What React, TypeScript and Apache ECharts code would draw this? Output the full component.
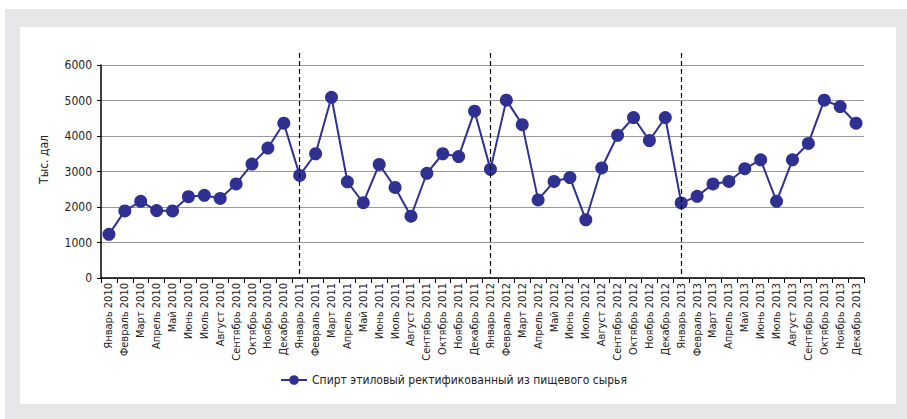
import React, { useEffect, useRef } from "react";
import * as echarts from "echarts";

// Monthly names and years used to build the category axis
const months: string[] = [
  "Январь", "Февраль", "Март", "Апрель", "Май", "Июнь",
  "Июль", "Август", "Сентябрь", "Октябрь", "Ноябрь", "Декабрь",
];
const years: number[] = [2010, 2011, 2012, 2013];
const categories: string[] = years.flatMap((y) => months.map((m) => `${m} ${y}`));

// Production, thousand decalitres
const values2010: number[] = [1230, 1890, 2160, 1900, 1890, 2290, 2330, 2240, 2650, 3210, 3660, 4360];
const values2011: number[] = [2890, 3500, 5090, 2710, 2120, 3200, 2550, 1740, 2950, 3500, 3420, 4700];
const values2012: number[] = [3060, 5010, 4320, 2200, 2720, 2830, 1640, 3100, 4020, 4520, 3870, 4520];
const values2013: number[] = [2115, 2300, 2650, 2720, 3080, 3330, 2160, 3330, 3790, 5010, 4830, 4360];
const seriesValues: number[] = [...values2010, ...values2011, ...values2012, ...values2013];

// Year boundaries marked with dashed lines
const yearStarts: string[] = ["Январь 2011", "Январь 2012", "Январь 2013"];

const seriesName = "Спирт этиловый ректификованный из пищевого сырья";
const yAxisTitle = "Тыс. дал";

const FONT = "'Liberation Sans Narrow', 'Arial Narrow', 'DejaVu Sans Condensed', sans-serif";
const LINE_COLOR = "#2e3192";

export default function App() {
  const ref = useRef<HTMLDivElement>(null);

  useEffect(() => {
    if (!ref.current) return;
    const chart = echarts.init(ref.current, undefined, { renderer: "svg" });
    chart.setOption({
      animation: false,
      backgroundColor: "#ffffff",
      graphic: [
        { type: "rect", silent: true, z: -10, shape: { x: 5, y: 9, width: 902, height: 410 }, style: { fill: "#e6e7e8" } },
        { type: "rect", silent: true, z: -9, shape: { x: 20, y: 27, width: 876, height: 377 }, style: { fill: "#ffffff" } },
      ],
      grid: { left: 101, right: 43, top: 65, bottom: 141, containLabel: false },
      legend: {
        data: [seriesName],
        left: "center",
        top: 369,
        itemWidth: 26,
        itemHeight: 12,
        itemGap: 4,
        textStyle: { fontFamily: FONT, fontSize: 12, color: "#222" },
      },
      xAxis: {
        type: "category",
        data: categories,
        boundaryGap: true,
        axisLine: { lineStyle: { color: "#000", width: 1.5 } },
        axisTick: { show: true, length: 5, lineStyle: { color: "#000" } },
        axisLabel: {
          interval: 0,
          rotate: 90,
          fontFamily: FONT,
          fontSize: 11,
          color: "#222",
          margin: 5,
        },
        splitLine: { show: false },
      },
      yAxis: {
        type: "value",
        min: 0,
        max: 6000,
        interval: 1000,
        name: yAxisTitle,
        nameLocation: "middle",
        nameGap: 51,
        nameTextStyle: { fontFamily: FONT, fontSize: 12, color: "#222", padding: [0, 0, 0, 24] },
        axisLine: { show: true, lineStyle: { color: "#000", width: 1.5 } },
        axisTick: { show: true, length: 4, lineStyle: { color: "#000" } },
        axisLabel: {
          fontFamily: FONT,
          fontSize: 12,
          color: "#222",
          margin: 9,
          formatter: (v: number) => String(v),
        },
        splitLine: { show: true, lineStyle: { color: "#9a9a9a", width: 1 } },
      },
      series: [
        {
          name: seriesName,
          type: "line",
          data: seriesValues,
          symbol: "circle",
          symbolSize: 13,
          lineStyle: { color: LINE_COLOR, width: 2 },
          itemStyle: { color: LINE_COLOR },
          markLine: {
            silent: true,
            symbol: ["none", "none"],
            label: { show: false },
            lineStyle: { color: "#000", width: 1.2, type: [5, 3] },
            data: yearStarts.map((c) => [
              { xAxis: c, y: 53 },
              { xAxis: c, yAxis: 0 },
            ]),
          },
        },
      ],
    });
    return () => chart.dispose();
  }, []);

  return (
    <div
      ref={ref}
      style={{ position: "fixed", left: 0, top: 0, width: 907, height: 419 }}
    />
  );
}
